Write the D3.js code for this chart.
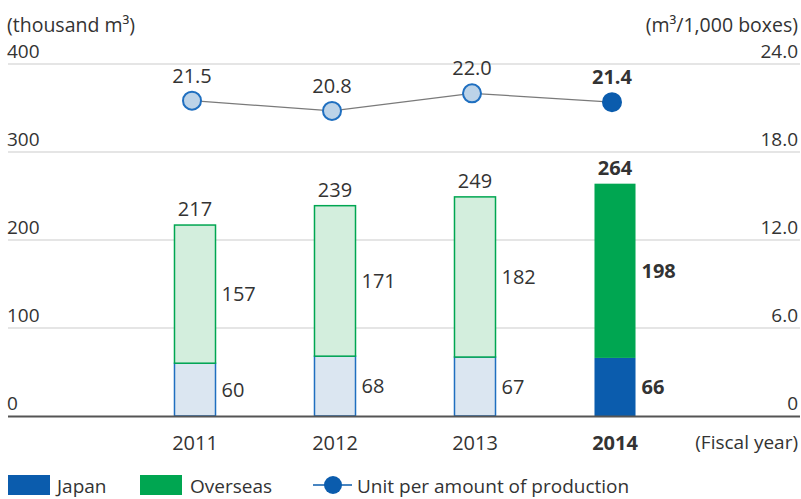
<!DOCTYPE html>
<html><head><meta charset="utf-8">
<script src="https://cdn.jsdelivr.net/npm/d3@7/dist/d3.min.js"></script>
<style>body{margin:0;background:#fff}svg{display:block}text{font-family:"Open Sans","Noto Sans",sans-serif;fill:#333}</style>
</head><body><svg id="c" width="801" height="499"></svg>
<script>
const years = ["2011","2012","2013","2014"];
const japan = [60, 68, 67, 66];
const overseas = [157, 171, 182, 198];
const totals = [217, 239, 249, 264];
const unitValues = [21.5, 20.8, 22.0, 21.4];
const leftTicks = [0, 100, 200, 300, 400];
const rightTicks = [0, 6, 12, 18, 24];

const svg = d3.select("#c");
const y = d3.scaleLinear().domain([0, 400]).range([416, 64]);
const yR = d3.scaleLinear().domain([0, 24]).range([416, 64]);
const x = d3.scaleBand().domain(years).range([125, 685]).paddingInner(0.707).paddingOuter(0.3535);
const bw = x.bandwidth();
const last = years.length - 1;

// grid
svg.append("g").selectAll("line").data(leftTicks.filter(d => d > 0)).join("line")
  .attr("x1", 8).attr("x2", 800).attr("y1", d => y(d)).attr("y2", d => y(d))
  .attr("stroke", "#dcdcdc").attr("stroke-width", 1.5);

// axis labels
svg.append("g").selectAll("text").data(leftTicks).join("text")
  .attr("x", 7).attr("y", d => y(d) - 6).attr("font-size", 19).text(d => d);
svg.append("g").selectAll("text").data(rightTicks).join("text")
  .attr("x", 798).attr("y", d => yR(d) - 6).attr("text-anchor", "end").attr("font-size", 19)
  .text(d => d === 0 ? "0" : d3.format(".1f")(d));
svg.append("text").attr("x", 7).attr("y", 32).attr("font-size", 19.5).text("(thousand m³)");
svg.append("text").attr("x", 798).attr("y", 32).attr("text-anchor", "end").attr("font-size", 19.5).text("(m³/1,000 boxes)");

// bars
const g = svg.append("g");
years.forEach((yr, i) => {
  const isLast = i === last;
  const x0 = x(yr);
  g.append("rect").attr("x", x0).attr("width", bw)
    .attr("y", y(japan[i])).attr("height", y(0) - y(japan[i]))
    .attr("fill", isLast ? "#0b5cad" : "#dbe6f1")
    .attr("stroke", isLast ? "none" : "#1f6fc0").attr("stroke-width", 1.5);
  g.append("rect").attr("x", x0).attr("width", bw)
    .attr("y", y(japan[i] + overseas[i])).attr("height", y(japan[i]) - y(japan[i] + overseas[i]))
    .attr("fill", isLast ? "#00a651" : "#d3eedd")
    .attr("stroke", isLast ? "none" : "#00a651").attr("stroke-width", 1.5);
  const fw = isLast ? "bold" : "normal";
  g.append("text").attr("x", x0 + bw + 6).attr("y", (y(0) + y(japan[i])) / 2 + 7)
    .attr("font-size", 20).attr("font-weight", fw).text(japan[i]);
  g.append("text").attr("x", x0 + bw + 6).attr("y", (y(japan[i]) + y(japan[i] + overseas[i])) / 2 + 7)
    .attr("font-size", 20).attr("font-weight", fw).text(overseas[i]);
  g.append("text").attr("x", x0 + bw / 2).attr("y", y(totals[i]) - 9).attr("text-anchor", "middle")
    .attr("font-size", 20).attr("font-weight", fw).text(totals[i]);
  svg.append("text").attr("x", x0 + bw / 2).attr("y", 450).attr("text-anchor", "middle")
    .attr("font-size", 20).attr("font-weight", fw).text(yr);
});

// baseline
svg.append("line").attr("x1", 8).attr("x2", 800).attr("y1", 416.5).attr("y2", 416.5)
  .attr("stroke", "#555").attr("stroke-width", 2);
svg.append("text").attr("x", 798).attr("y", 449).attr("text-anchor", "end").attr("font-size", 19).text("(Fiscal year)");

// line
const px = (d, i) => x(years[i]) + bw / 2 - 3;
const line = d3.line().x(px).y(d => yR(d));
svg.append("path").datum(unitValues).attr("d", line).attr("fill", "none").attr("stroke", "#7a7a7a").attr("stroke-width", 1.3);
svg.append("g").selectAll("circle").data(unitValues).join("circle")
  .attr("cx", px).attr("cy", d => yR(d)).attr("r", 9)
  .attr("fill", (d, i) => i === last ? "#0b5cad" : "#bcd3e8")
  .attr("stroke", (d, i) => i === last ? "#0b5cad" : "#1f6fc0").attr("stroke-width", 2);
svg.append("g").selectAll("text").data(unitValues).join("text")
  .attr("x", px).attr("y", d => yR(d) - 18).attr("text-anchor", "middle").attr("font-size", 20)
  .attr("font-weight", (d, i) => i === last ? "bold" : "normal").text(d => d3.format(".1f")(d));

// legend
const lg = svg.append("g");
lg.append("rect").attr("x", 8).attr("y", 475).attr("width", 42).attr("height", 20).attr("fill", "#0b5cad");
lg.append("text").attr("x", 57).attr("y", 493).attr("font-size", 19).text("Japan");
lg.append("rect").attr("x", 140).attr("y", 475).attr("width", 42).attr("height", 20).attr("fill", "#00a651");
lg.append("text").attr("x", 190).attr("y", 493).attr("font-size", 19).text("Overseas");
lg.append("line").attr("x1", 313).attr("x2", 352).attr("y1", 485).attr("y2", 485).attr("stroke", "#0b5cad").attr("stroke-width", 1.5);
lg.append("circle").attr("cx", 333).attr("cy", 485).attr("r", 9).attr("fill", "#0b5cad");
lg.append("text").attr("x", 357).attr("y", 493).attr("font-size", 19).text("Unit per amount of production");
</script></body></html>
